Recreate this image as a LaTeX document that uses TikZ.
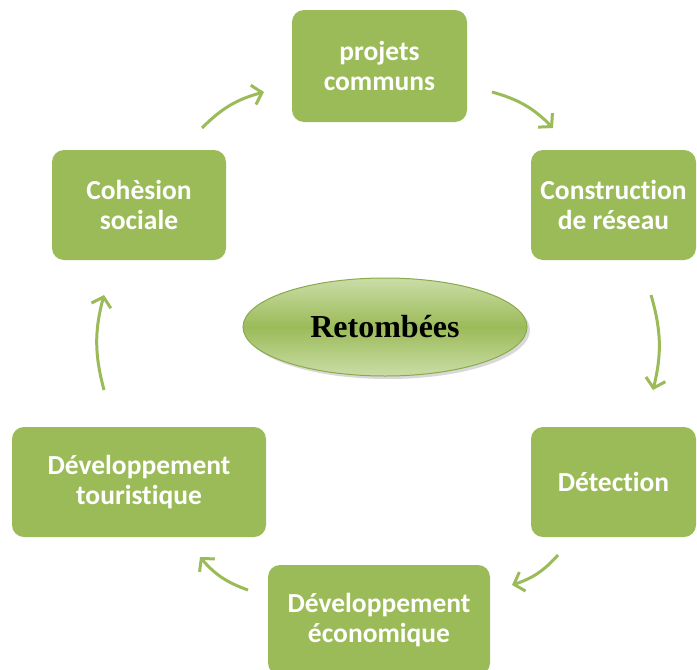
\documentclass[tikz,border=0pt]{standalone}
\usepackage{fontspec}
\setmainfont{Carlito}[Ligatures=NoCommon]
\newfontfamily\serifret{Liberation Serif}
\usetikzlibrary{arrows.meta,shapes.geometric,shadows}
\definecolor{olive}{HTML}{9BBB59}
\definecolor{olivelight}{HTML}{CADDA6}
\definecolor{olivedark}{HTML}{8AAA4C}

\tikzset{
  etape/.style={rectangle, rounded corners=12pt, fill=olive, text=white,
    align=center, inner sep=0pt, font=\fontsize{27.5}{30}\selectfont\bfseries},
  fleche/.style={draw=olive, line width=3pt,
    -{Straight Barb[length=9pt,width=20pt]}, bend left=15}
}

\begin{document}
\begin{tikzpicture}[x=1pt,y=-1pt]
\useasboundingbox (0,0) rectangle (697,670);

% les etapes
\node[etape, minimum width=175pt, minimum height=112pt] (proj) at (379.5,66) {projets\\communs};
\node[etape, minimum width=165pt, minimum height=110pt] (cons) at (613.5,205) {Construction\\de réseau};
\node[etape, minimum width=165pt, minimum height=110pt] (det) at (613.5,482) {Détection};
\node[etape, minimum width=222pt, minimum height=110pt] (eco) at (379,620) {Développement\\économique};
\node[etape, minimum width=254pt, minimum height=110pt] (tour) at (139,482) {Développement\\touristique};
\node[etape, minimum width=174pt, minimum height=110pt] (coh) at (139,205) {Cohèsion\\sociale};

% au centre
\node[ellipse, minimum width=284pt, minimum height=98pt, inner sep=0pt,
  draw=olivedark, line width=1pt, top color=olivelight, bottom color=olivelight,
  middle color=olive, drop shadow={shadow xshift=3pt, shadow yshift=-3pt, fill=gray!60},
  font=\serifret\fontsize{32}{36}\selectfont\bfseries] (ret) at (385,327) {Retombées};

% les fleches
\coordinate (a1) at (202,128); \coordinate (b1) at (264,92);
\coordinate (a2) at (492,92);  \coordinate (b2) at (553,128);
\coordinate (a3) at (651,295); \coordinate (b3) at (653,390);
\coordinate (a4) at (558,555); \coordinate (b4) at (512,585);
\coordinate (a5) at (248,590); \coordinate (b5) at (200,557);
\coordinate (a6) at (104,390); \coordinate (b6) at (104,295);

\draw[fleche] (a1) to (b1);
\draw[fleche] (a2) to (b2);
\draw[fleche] (a3) to (b3);
\draw[fleche] (a4) to (b4);
\draw[fleche] (a5) to (b5);
\draw[fleche] (a6) to (b6);

\end{tikzpicture}
\end{document}
